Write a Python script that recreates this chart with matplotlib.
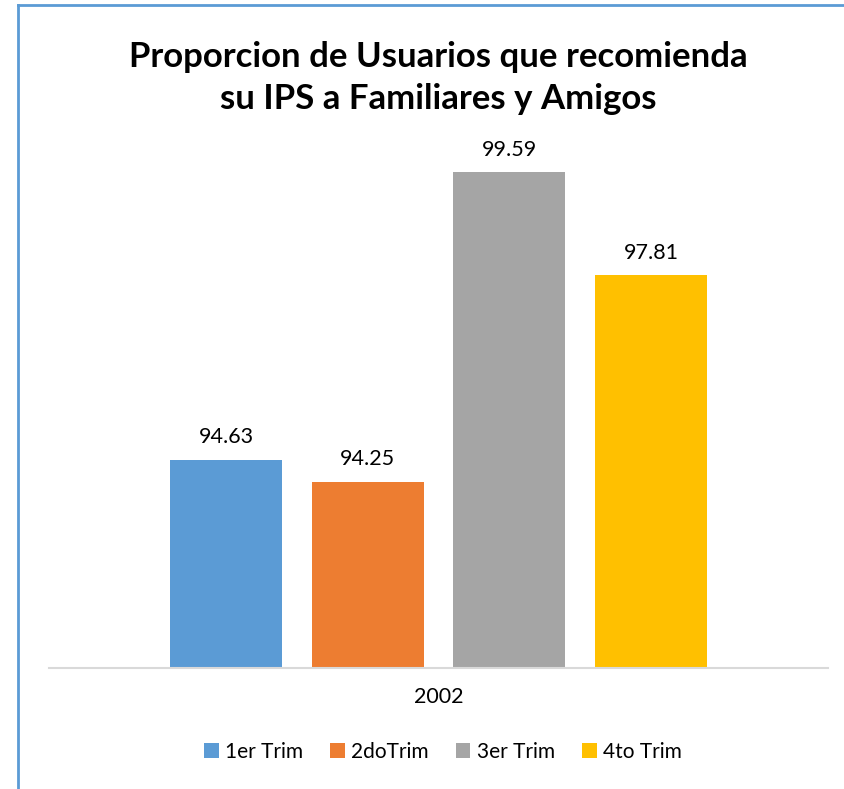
import matplotlib.pyplot as plt
from matplotlib.lines import Line2D

# datos del grafico
series = ["1er Trim", "2doTrim", "3er Trim", "4to Trim"]
valores = [94.63, 94.25, 99.59, 97.81]
colores = ["#5B9BD5", "#ED7D31", "#A5A5A5", "#FFC000"]
categoria = "2002"
titulo = "Proporcion de Usuarios que recomienda\nsu IPS a Familiares y Amigos"

plt.rcParams['font.family'] = ['Lato', 'DejaVu Sans']

fig = plt.figure(figsize=(8.44, 7.89), dpi=100)
ax = fig.add_axes([49 / 844, (789 - 668) / 789, 779 / 844, 579 / 789])

posiciones = list(range(len(valores)))
barras = ax.bar(posiciones, valores, width=0.79, color=colores, label=series, bottom=0)
ax.set_ylim(91.03, 101.03)
ax.set_xlim(-1.25, len(valores) + 0.25)

# etiquetas de valor
for x, v in zip(posiciones, valores):
    ax.annotate(f"{v:.2f}", (x, v), xytext=(0, 9), textcoords="offset points",
                ha="center", va="bottom", fontsize=15.5, color="#000000")

ax.set_yticks([])
ax.set_xticks([1.5])
ax.set_xticklabels([categoria], fontsize=15.5)
ax.tick_params(axis="x", length=0, pad=14)
for lado in ["top", "right", "left"]:
    ax.spines[lado].set_visible(False)
ax.spines["bottom"].set_color("#D9D9D9")
ax.spines["bottom"].set_linewidth(1.5)

fig.text(438 / 844, 1 - 78 / 789, titulo, ha="center", va="center",
         fontsize=25, fontweight="bold", linespacing=1.42)

fig.legend(barras, series, loc="center", ncol=4, bbox_to_anchor=(443 / 844, 1 - 752 / 789),
           frameon=False, fontsize=15, handlelength=0.7, handleheight=0.7,
           handletextpad=0.3, columnspacing=1.3)

# borde del grafico
fig.add_artist(Line2D([18 / 844, 1], [1 - 5 / 789, 1 - 5 / 789], color="#5B9BD5", lw=2,
                      transform=fig.transFigure))
fig.add_artist(Line2D([18 / 844, 18 / 844], [0, 1 - 5 / 789], color="#5B9BD5", lw=2,
                      transform=fig.transFigure))

fig.savefig("out.png", dpi=100)
